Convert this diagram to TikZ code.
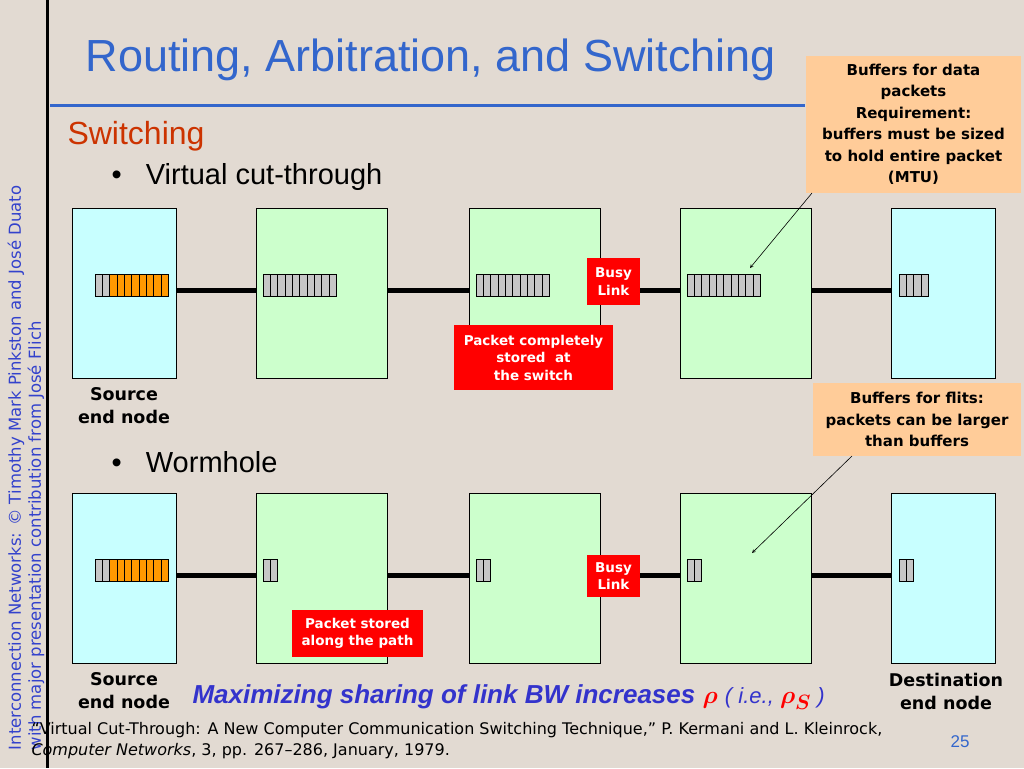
\documentclass[tikz,border=0pt]{standalone}
\usepackage{amsmath}
\usepackage{fontspec}
\setmainfont{DejaVu Sans}
\newfontfamily\arialfont{Liberation Sans}
\usetikzlibrary{positioning}
\definecolor{bgbeige}{HTML}{E2DAD2}
\definecolor{nodecyan}{HTML}{C8FFFF}
\definecolor{swgreen}{HTML}{CCFFCC}
\definecolor{flitorange}{HTML}{FF9900}
\definecolor{notebg}{HTML}{FFCC99}
\definecolor{titleblue}{HTML}{3366CC}
\definecolor{headred}{HTML}{CC3300}
\definecolor{emphblue}{HTML}{3333CC}
\tikzset{
  endnode/.style={draw=black,fill=nodecyan,minimum width=104pt,minimum height=170pt,inner sep=0pt},
  switchnode/.style={draw=black,fill=swgreen,minimum width=131pt,minimum height=170pt,inner sep=0pt},
  link/.style={line width=5pt},
  redtag/.style={fill=red,text=white,font=\bfseries\fontsize{13.5}{17.5}\selectfont,align=center,inner sep=3pt},
  notetag/.style={fill=notebg,font=\bfseries\fontsize{15}{21.5}\selectfont,align=center,inner sep=3pt},
  caption/.style={font=\bfseries\fontsize{17.5}{23}\selectfont,align=center},
  callarrow/.style={-stealth,semithick}
}
% buffer of #4 cells starting at (#1,#2), first #3 cells gray, rest orange
\newcommand{\flitbuf}[4]{%
  \foreach \i in {1,...,#4}{%
    \pgfmathsetmacro{\xa}{#1+(\i-1)*7.3}
    \ifnum\i>#3 \def\cellcol{flitorange}\else\def\cellcol{gray!45}\fi
    \draw[fill=\cellcol] (\xa,#2) rectangle ++(7.3,22);
  }}
\begin{document}
\begin{tikzpicture}[x=1pt,y=-1pt]
	\fill[bgbeige] (0,0) rectangle (1024,768);
	\useasboundingbox (0,0) rectangle (1024,768);
	
	\draw[line width=3pt] (47,0) -- (47,768);
	\draw[titleblue,line width=3pt] (50,105) -- (805,105);
	\node[anchor=west,titleblue,font=\arialfont\fontsize{45}{50}\selectfont] (title) at (82,60) {Routing, Arbitration, and Switching};
	\node[anchor=west,headred,font=\arialfont\fontsize{32}{36}\selectfont] (sub) at (64,136) {Switching};
	\node[anchor=west,font=\arialfont\fontsize{29}{33}\selectfont] (vct) at (108,177) {\textbullet\ \ \ Virtual cut-through};
	\node[anchor=west,font=\arialfont\fontsize{29}{33}\selectfont] (worm) at (108,462) {\textbullet\ \ \ Wormhole};
	\node[rotate=90,emphblue!70!titleblue,font=\fontsize{16.5}{20}\selectfont,align=left] (side) at (26,468) {Interconnection Networks: © Timothy Mark Pinkston and José Duato\\with major presentation contribution from José Flich};
	
	% virtual cut-through row
	\node[endnode] (src1) at (124,293) {};
	\node[switchnode] (swa1) at (321.5,293) {};
	\node[switchnode] (swb1) at (534.5,293) {};
	\node[switchnode] (swc1) at (745.5,293) {};
	\node[endnode] (dst1) at (943.5,293) {};
	\draw[link] (src1.east |- 0,290) -- (swa1.west |- 0,290);
	\draw[link] (swa1.east |- 0,290) -- (swb1.west |- 0,290);
	\draw[link] (swb1.east |- 0,290) -- (swc1.west |- 0,290);
	\draw[link] (swc1.east |- 0,290) -- (dst1.west |- 0,290);
	\flitbuf{95}{274}{2}{10}
	\flitbuf{263}{274}{10}{10}
	\flitbuf{476}{274}{10}{10}
	\flitbuf{687}{274}{10}{10}
	\flitbuf{899}{274}{4}{4}
	
	% wormhole row
	\node[endnode] (src2) at (124,578) {};
	\node[switchnode] (swa2) at (321.5,578) {};
	\node[switchnode] (swb2) at (534.5,578) {};
	\node[switchnode] (swc2) at (745.5,578) {};
	\node[endnode] (dst2) at (943.5,578) {};
	\draw[link] (src2.east |- 0,575) -- (swa2.west |- 0,575);
	\draw[link] (swa2.east |- 0,575) -- (swb2.west |- 0,575);
	\draw[link] (swb2.east |- 0,575) -- (swc2.west |- 0,575);
	\draw[link] (swc2.east |- 0,575) -- (dst2.west |- 0,575);
	\flitbuf{95}{559}{2}{10}
	\flitbuf{263}{559}{2}{2}
	\flitbuf{476}{559}{2}{2}
	\flitbuf{687}{559}{2}{2}
	\flitbuf{899}{559}{2}{2}
	
	% tags
	\node[redtag,minimum width=53pt,minimum height=47pt] (busy1) at (613.5,281.5) {Busy\\ Link};
	\node[redtag,minimum width=159pt,minimum height=65pt] (stored1) at (533.5,357.5) {Packet completely\\stored \ at\\the switch};
	\node[redtag,minimum width=53pt,minimum height=42pt] (busy2) at (613.5,576) {Busy\\ Link};
	\node[redtag,minimum width=131pt,minimum height=47pt] (stored2) at (357.5,633.5) {Packet stored\\along the path};
	\node[caption] (srclab1) at (124,406) {Source\\end node};
	\node[caption] (srclab2) at (124,691) {Source\\end node};
	\node[caption] (dstlab2) at (946,691) {Destination\\end node};
	
	% callouts
	\node[notetag,minimum width=215pt,minimum height=137pt] (note1) at (913.5,124.5) {Buffers for data\\packets\\Requirement:\\buffers must be sized\\to hold entire packet\\(MTU)};
	\node[notetag,minimum width=208pt,minimum height=73pt] (note2) at (917,419.5) {Buffers for flits:\\packets can be larger\\than buffers};
	\coordinate (tip1) at (750,268);
	\coordinate (tip2) at (752,553);
	\draw[callarrow] (812,193) -- (tip1);
	\draw[callarrow] (852,456) -- (tip2);
	
	\node[anchor=west,emphblue,font=\arialfont\bfseries\itshape\fontsize{26}{30}\selectfont] (bw) at (189,697) {Maximizing sharing of link BW increases {\color{red}\fontsize{38}{38}\selectfont$\boldsymbol{\rho}$} {\mdseries\fontsize{22}{24}\selectfont( i.e., {\color{red}\fontsize{28}{28}\selectfont$\boldsymbol{\rho_S}$} )}};
	\node[anchor=west,font=\fontsize{16}{21}\selectfont,align=left] (ref) at (28,741) {“Virtual Cut-Through: A New Computer Communication Switching Technique,” P. Kermani and L. Kleinrock,\\\textit{Computer Networks}, 3, pp. 267–286, January, 1979.};
	\node[titleblue,font=\arialfont\fontsize{17}{20}\selectfont] (pg) at (960,742) {25};
\end{tikzpicture}
\end{document}
